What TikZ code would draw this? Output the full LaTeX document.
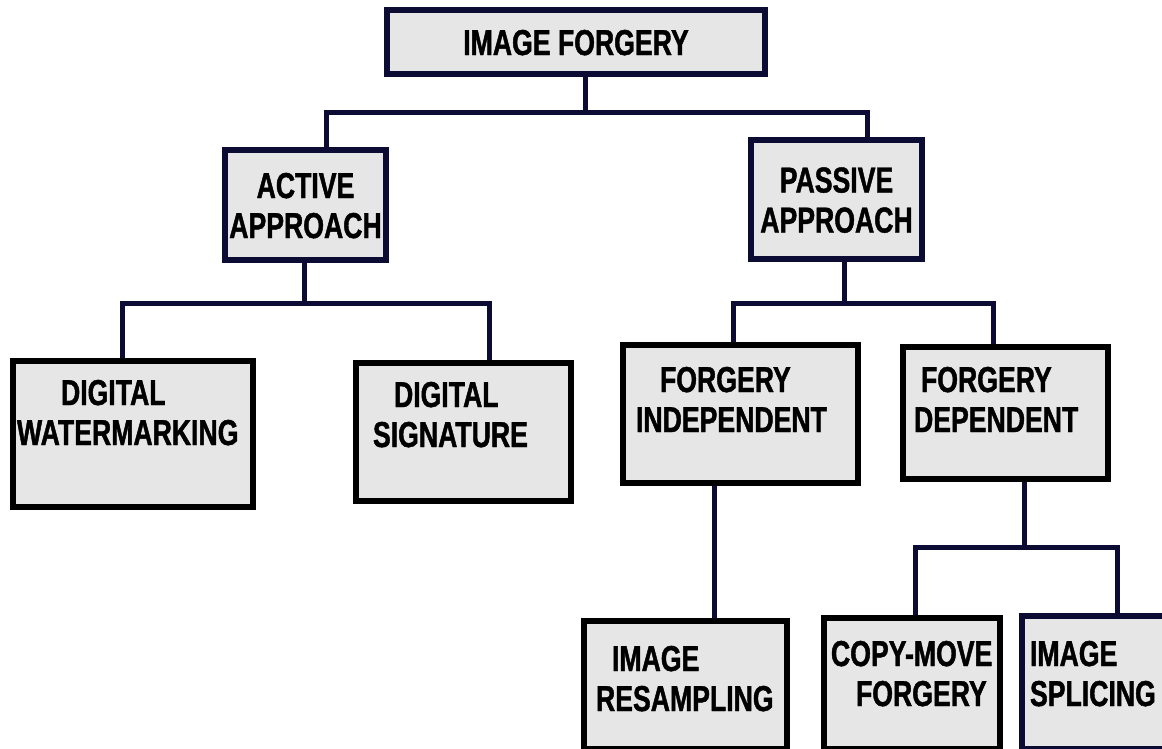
\documentclass[tikz,border=0pt]{standalone}
\usepackage{fontspec}
\usetikzlibrary{positioning}
\newfontfamily\boxfont[FakeStretch=0.74,FakeBold=1.2]{Liberation Sans}
\definecolor{navy}{HTML}{0B0B33}
\definecolor{boxgray}{HTML}{E6E6E6}

\begin{document}
\begin{tikzpicture}[x=1pt, y=-1pt]
\tikzset{
  box/.style={draw=black, fill=boxgray, line width=6pt, inner xsep=0pt,
    font=\boxfont\bfseries\fontsize{36}{40}\selectfont, text height=26pt},
  navybox/.style={box, draw=navy},
  midbox/.style={align=center, text height=66pt, text depth=0pt, inner ysep=0pt},
  topbox/.style={anchor=north, align=left},
  link/.style={draw=navy, line width=5pt}
}
\useasboundingbox (0,0) rectangle (1162,748);
\clip (0,0) rectangle (1162,748);
\fill[white] (0,0) rectangle (1162,748);

% top level
\node[navybox, minimum width=378pt, minimum height=64pt, inner ysep=0pt, text depth=0pt] (imgf) at (576,42) {IMAGE FORGERY};

% approaches
\node[navybox, midbox, minimum width=161pt, minimum height=110pt] (active) at (305.5,205) {ACTIVE\\APPROACH};
\node[navybox, midbox, minimum width=171pt, minimum height=119pt] (passive) at (836.5,199.5) {PASSIVE\\APPROACH};

% active branch
\node[box, topbox, text width=232pt, inner ysep=18pt, text depth=84pt, minimum width=240pt] (dw) at (133,358) {\hspace*{44pt}DIGITAL\\WATERMARKING};
\node[box, topbox, text width=181pt, inner ysep=18pt, text depth=76pt, minimum width=215pt] (ds) at (463.5,360) {\hspace*{21pt}DIGITAL\\SIGNATURE};

% passive branch
\node[box, topbox, text width=209pt, inner ysep=21pt, text depth=70pt, minimum width=235pt] (fi) at (740.5,342) {\hspace*{24pt}FORGERY\\INDEPENDENT};
\node[box, topbox, text width=183pt, inner ysep=19pt, text depth=68pt, minimum width=205pt] (fd) at (1005.5,344) {\hspace*{7pt}FORGERY\\DEPENDENT};

% bottom row
\node[box, topbox, text width=179pt, inner ysep=24pt, text depth=54pt, minimum width=203pt] (ir) at (685.5,618) {\hspace*{16pt}IMAGE\\RESAMPLING};
\node[box, topbox, text width=162pt, inner ysep=22pt, text depth=61pt, minimum width=176pt] (cm) at (912,615) {COPY-MOVE\\\hspace*{25pt}FORGERY};
\node[navybox, topbox, text width=162pt, inner ysep=24pt, text depth=59pt, minimum width=178pt] (is) at (1111,613) {IMAGE\\SPLICING};

% connectors
\coordinate (j1) at (585,112);
\coordinate (j2) at (304,303);
\coordinate (j3) at (844,303);
\coordinate (j4) at (1024,547);
\draw[link] (imgf.south -| j1) -- (j1);
\draw[link] ([xshift=20.5]active.north) |- (j1) -| ([xshift=31]passive.north);
\draw[link] (active.south -| j2) -- (j2);
\draw[link] ([xshift=-11]dw.north) |- (j2) -| ([xshift=25.5]ds.north);
\draw[link] (passive.south -| j3) -- (j3);
\draw[link] ([xshift=-7.5]fi.north) |- (j3) -| ([xshift=-12.5]fd.north);
\draw[link] ([xshift=-26.5]fi.south) -- ([xshift=28.5]ir.north);
\draw[link] (fd.south -| j4) -- (j4);
\draw[link] ([xshift=3]cm.north) |- (j4) -| ([xshift=6]is.north);
\end{tikzpicture}
\end{document}
